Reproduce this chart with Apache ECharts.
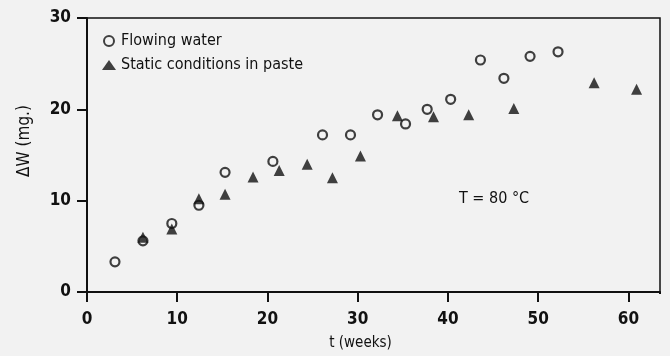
<!DOCTYPE html>
<html>
<head>
<meta charset="utf-8">
<script src="https://cdn.jsdelivr.net/npm/echarts@6/dist/echarts.min.js"></script>
<style>
html,body{margin:0;padding:0;background:#f2f2f2;}
#c{width:670px;height:356px;}
</style>
</head>
<body>
<div id="c"></div>
<script>
const flowingX = [3.1, 6.2, 9.4, 12.4, 15.3, 20.6, 26.1, 29.2, 32.2, 35.3, 37.7, 40.3, 43.6, 46.2, 49.1, 52.2];
const flowingY = [3.3, 5.6, 7.5, 9.5, 13.1, 14.3, 17.2, 17.2, 19.4, 18.4, 20.0, 21.1, 25.4, 23.4, 25.8, 26.3];
const staticX = [6.2, 9.4, 12.4, 15.3, 18.4, 21.3, 24.4, 27.2, 30.3, 34.4, 38.4, 42.3, 47.3, 56.2, 60.9];
const staticY = [6.0, 6.9, 10.2, 10.7, 12.6, 13.3, 14.0, 12.5, 14.9, 19.3, 19.2, 19.4, 20.1, 22.9, 22.2];
const seriesNames = ['Flowing water', 'Static conditions in paste'];
const xTicks = [0, 10, 20, 30, 40, 50, 60];
const yTicks = [0, 10, 20, 30];

const font = '"DejaVu Sans Condensed", "Liberation Sans Narrow", "Liberation Sans", sans-serif';
const bg = '#f2f2f2';
const chart = echarts.init(document.getElementById('c'));
chart.setOption({
  backgroundColor: bg,
  animation: false,
  grid: {left: 87, right: 10, top: 18, bottom: 63, show: true, borderColor: '#111', borderWidth: 1.5, backgroundColor: 'transparent'},
  legend: {
    orient: 'vertical', left: 97, top: 28, itemGap: 8, itemWidth: 14, itemHeight: 10,
    textStyle: {fontFamily: font, fontSize: 16, color: '#111'},
    data: seriesNames
  },
  xAxis: {
    type: 'value', min: 0, max: 63.5, interval: 10,
    name: 't (weeks)', nameLocation: 'middle', nameGap: 44,
    nameTextStyle: {fontFamily: font, fontSize: 15, color: '#111', padding: [0, 26, 0, 0]},
    axisLine: {show: true, onZero: false, lineStyle: {color: '#111', width: 2}},
    axisTick: {show: true, inside: false, length: 10, lineStyle: {color: '#111', width: 2}},
    axisLabel: {fontFamily: font, fontSize: 17, fontWeight: 'bold', color: '#111', margin: 19,
      formatter: v => xTicks.includes(v) ? String(v) : ''},
    splitLine: {show: false}
  },
  yAxis: {
    type: 'value', min: 0, max: 30, interval: 10,
    axisLine: {show: true, onZero: false, lineStyle: {color: '#111', width: 2}},
    axisTick: {show: true, inside: false, length: 10, lineStyle: {color: '#111', width: 2}},
    axisLabel: {fontFamily: font, fontSize: 17, fontWeight: 'bold', color: '#111', margin: 16,
      formatter: v => yTicks.includes(v) ? String(v) : ''},
    splitLine: {show: false}
  },
  graphic: [
    {
      type: 'text', x: 25, y: 141, rotation: Math.PI / 2,
      style: {text: 'ΔW (mg.)', font: '17px ' + font, fill: '#111', align: 'center', verticalAlign: 'middle'}
    },
    {
      type: 'text', left: 459, top: 191,
      style: {text: 'T = 80 °C', font: '16px ' + font, fill: '#111'}
    },
    {
      type: 'rect', left: 657, top: 294, z: 100,
      shape: {width: 8, height: 11}, style: {fill: bg}
    }
  ],
  series: [
    {
      name: seriesNames[0], type: 'scatter', symbol: 'circle', symbolSize: 9,
      itemStyle: {color: bg, borderColor: '#111', borderWidth: 2.2},
      data: flowingX.map((x, i) => [x, flowingY[i]])
    },
    {
      name: seriesNames[1], type: 'scatter', symbol: 'triangle', symbolSize: 11,
      itemStyle: {color: '#111'},
      data: staticX.map((x, i) => [x, staticY[i]])
    }
  ]
});
</script>
</body>
</html>
